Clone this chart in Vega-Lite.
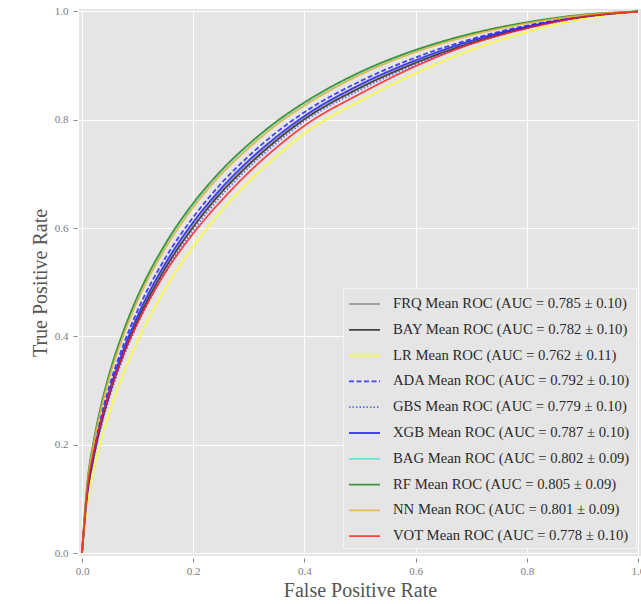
{
  "$schema": "https://vega.github.io/schema/vega-lite/v6.json",
  "autosize": {"type": "none"},
  "padding": {"left": 79, "top": 9, "right": 0, "bottom": 48},
  "width": 562,
  "height": 547,
  "background": "white",
  "config": {
    "view": {"fill": "#E5E5E5", "stroke": null},
    "axis": {
      "domain": false,
      "grid": true,
      "gridColor": "white",
      "gridWidth": 1.1,
      "tickColor": "#888888",
      "tickSize": 4,
      "tickWidth": 1,
      "offset": 2,
      "labelFont": "Liberation Serif",
      "labelFontSize": 11,
      "labelColor": "#7a7a7a",
      "titleFont": "Liberation Serif",
      "titleFontSize": 20,
      "titleFontWeight": "normal",
      "titleColor": "#555555"
    },
    "legend": {
      "labelFont": "Liberation Serif",
      "labelFontSize": 14.7,
      "labelColor": "#2a2a2a",
      "labelLimit": 400
    }
  },
  "datasets": {
    "labels": [
      {"m": "FRQ", "label": "FRQ Mean ROC (AUC = 0.785 ± 0.10)"},
      {"m": "BAY", "label": "BAY Mean ROC (AUC = 0.782 ± 0.10)"},
      {"m": "LR", "label": "LR Mean ROC (AUC = 0.762 ± 0.11)"},
      {"m": "ADA", "label": "ADA Mean ROC (AUC = 0.792 ± 0.10)"},
      {"m": "GBS", "label": "GBS Mean ROC (AUC = 0.779 ± 0.10)"},
      {"m": "XGB", "label": "XGB Mean ROC (AUC = 0.787 ± 0.10)"},
      {"m": "BAG", "label": "BAG Mean ROC (AUC = 0.802 ± 0.09)"},
      {"m": "RF", "label": "RF Mean ROC (AUC = 0.805 ± 0.09)"},
      {"m": "NN", "label": "NN Mean ROC (AUC = 0.801 ± 0.09)"},
      {"m": "VOT", "label": "VOT Mean ROC (AUC = 0.778 ± 0.10)"}
    ],
    "roc": [
      {"m": "FRQ", "x": 0, "y": 0}, {"m": "FRQ", "x": 0.01, "y": 0.115}, {"m": "FRQ", "x": 0.02, "y": 0.176}, {"m": "FRQ", "x": 0.03, "y": 0.224}, {"m": "FRQ", "x": 0.05, "y": 0.299}, {"m": "FRQ", "x": 0.075, "y": 0.374}, {"m": "FRQ", "x": 0.1, "y": 0.435}, {"m": "FRQ", "x": 0.15, "y": 0.532}, {"m": "FRQ", "x": 0.2, "y": 0.608}, {"m": "FRQ", "x": 0.25, "y": 0.67}, {"m": "FRQ", "x": 0.3, "y": 0.722}, {"m": "FRQ", "x": 0.35, "y": 0.766}, {"m": "FRQ", "x": 0.4, "y": 0.805}, {"m": "FRQ", "x": 0.5, "y": 0.863}, {"m": "FRQ", "x": 0.6, "y": 0.908}, {"m": "FRQ", "x": 0.7, "y": 0.945}, {"m": "FRQ", "x": 0.8, "y": 0.971}, {"m": "FRQ", "x": 0.9, "y": 0.99}, {"m": "FRQ", "x": 1, "y": 1},
      {"m": "BAY", "x": 0, "y": 0}, {"m": "BAY", "x": 0.01, "y": 0.112}, {"m": "BAY", "x": 0.02, "y": 0.172}, {"m": "BAY", "x": 0.03, "y": 0.219}, {"m": "BAY", "x": 0.05, "y": 0.294}, {"m": "BAY", "x": 0.075, "y": 0.368}, {"m": "BAY", "x": 0.1, "y": 0.429}, {"m": "BAY", "x": 0.15, "y": 0.526}, {"m": "BAY", "x": 0.2, "y": 0.602}, {"m": "BAY", "x": 0.25, "y": 0.665}, {"m": "BAY", "x": 0.3, "y": 0.717}, {"m": "BAY", "x": 0.35, "y": 0.762}, {"m": "BAY", "x": 0.4, "y": 0.801}, {"m": "BAY", "x": 0.5, "y": 0.859}, {"m": "BAY", "x": 0.6, "y": 0.905}, {"m": "BAY", "x": 0.7, "y": 0.942}, {"m": "BAY", "x": 0.8, "y": 0.97}, {"m": "BAY", "x": 0.9, "y": 0.99}, {"m": "BAY", "x": 1, "y": 1},
      {"m": "LR", "x": 0, "y": 0}, {"m": "LR", "x": 0.01, "y": 0.094}, {"m": "LR", "x": 0.02, "y": 0.148}, {"m": "LR", "x": 0.03, "y": 0.192}, {"m": "LR", "x": 0.05, "y": 0.262}, {"m": "LR", "x": 0.075, "y": 0.333}, {"m": "LR", "x": 0.1, "y": 0.392}, {"m": "LR", "x": 0.15, "y": 0.489}, {"m": "LR", "x": 0.2, "y": 0.566}, {"m": "LR", "x": 0.25, "y": 0.631}, {"m": "LR", "x": 0.3, "y": 0.686}, {"m": "LR", "x": 0.35, "y": 0.733}, {"m": "LR", "x": 0.4, "y": 0.775}, {"m": "LR", "x": 0.5, "y": 0.835}, {"m": "LR", "x": 0.6, "y": 0.886}, {"m": "LR", "x": 0.7, "y": 0.929}, {"m": "LR", "x": 0.8, "y": 0.962}, {"m": "LR", "x": 0.9, "y": 0.986}, {"m": "LR", "x": 1, "y": 1},
      {"m": "ADA", "x": 0, "y": 0}, {"m": "ADA", "x": 0.01, "y": 0.121}, {"m": "ADA", "x": 0.02, "y": 0.184}, {"m": "ADA", "x": 0.03, "y": 0.234}, {"m": "ADA", "x": 0.05, "y": 0.311}, {"m": "ADA", "x": 0.075, "y": 0.386}, {"m": "ADA", "x": 0.1, "y": 0.448}, {"m": "ADA", "x": 0.15, "y": 0.545}, {"m": "ADA", "x": 0.2, "y": 0.62}, {"m": "ADA", "x": 0.25, "y": 0.682}, {"m": "ADA", "x": 0.3, "y": 0.733}, {"m": "ADA", "x": 0.35, "y": 0.777}, {"m": "ADA", "x": 0.4, "y": 0.814}, {"m": "ADA", "x": 0.5, "y": 0.871}, {"m": "ADA", "x": 0.6, "y": 0.915}, {"m": "ADA", "x": 0.7, "y": 0.949}, {"m": "ADA", "x": 0.8, "y": 0.974}, {"m": "ADA", "x": 0.9, "y": 0.991}, {"m": "ADA", "x": 1, "y": 1},
      {"m": "GBS", "x": 0, "y": 0}, {"m": "GBS", "x": 0.01, "y": 0.109}, {"m": "GBS", "x": 0.02, "y": 0.168}, {"m": "GBS", "x": 0.03, "y": 0.215}, {"m": "GBS", "x": 0.05, "y": 0.289}, {"m": "GBS", "x": 0.075, "y": 0.363}, {"m": "GBS", "x": 0.1, "y": 0.423}, {"m": "GBS", "x": 0.15, "y": 0.52}, {"m": "GBS", "x": 0.2, "y": 0.596}, {"m": "GBS", "x": 0.25, "y": 0.659}, {"m": "GBS", "x": 0.3, "y": 0.712}, {"m": "GBS", "x": 0.35, "y": 0.757}, {"m": "GBS", "x": 0.4, "y": 0.797}, {"m": "GBS", "x": 0.5, "y": 0.855}, {"m": "GBS", "x": 0.6, "y": 0.902}, {"m": "GBS", "x": 0.7, "y": 0.94}, {"m": "GBS", "x": 0.8, "y": 0.969}, {"m": "GBS", "x": 0.9, "y": 0.989}, {"m": "GBS", "x": 1, "y": 1},
      {"m": "XGB", "x": 0, "y": 0}, {"m": "XGB", "x": 0.01, "y": 0.116}, {"m": "XGB", "x": 0.02, "y": 0.178}, {"m": "XGB", "x": 0.03, "y": 0.226}, {"m": "XGB", "x": 0.05, "y": 0.302}, {"m": "XGB", "x": 0.075, "y": 0.377}, {"m": "XGB", "x": 0.1, "y": 0.438}, {"m": "XGB", "x": 0.15, "y": 0.535}, {"m": "XGB", "x": 0.2, "y": 0.611}, {"m": "XGB", "x": 0.25, "y": 0.673}, {"m": "XGB", "x": 0.3, "y": 0.725}, {"m": "XGB", "x": 0.35, "y": 0.769}, {"m": "XGB", "x": 0.4, "y": 0.807}, {"m": "XGB", "x": 0.5, "y": 0.865}, {"m": "XGB", "x": 0.6, "y": 0.91}, {"m": "XGB", "x": 0.7, "y": 0.946}, {"m": "XGB", "x": 0.8, "y": 0.972}, {"m": "XGB", "x": 0.9, "y": 0.99}, {"m": "XGB", "x": 1, "y": 1},
      {"m": "BAG", "x": 0, "y": 0}, {"m": "BAG", "x": 0.01, "y": 0.131}, {"m": "BAG", "x": 0.02, "y": 0.197}, {"m": "BAG", "x": 0.03, "y": 0.248}, {"m": "BAG", "x": 0.05, "y": 0.328}, {"m": "BAG", "x": 0.075, "y": 0.405}, {"m": "BAG", "x": 0.1, "y": 0.467}, {"m": "BAG", "x": 0.15, "y": 0.564}, {"m": "BAG", "x": 0.2, "y": 0.64}, {"m": "BAG", "x": 0.25, "y": 0.7}, {"m": "BAG", "x": 0.3, "y": 0.749}, {"m": "BAG", "x": 0.35, "y": 0.792}, {"m": "BAG", "x": 0.4, "y": 0.827}, {"m": "BAG", "x": 0.5, "y": 0.884}, {"m": "BAG", "x": 0.6, "y": 0.926}, {"m": "BAG", "x": 0.7, "y": 0.957}, {"m": "BAG", "x": 0.8, "y": 0.979}, {"m": "BAG", "x": 0.9, "y": 0.993}, {"m": "BAG", "x": 1, "y": 1},
      {"m": "RF", "x": 0, "y": 0}, {"m": "RF", "x": 0.01, "y": 0.134}, {"m": "RF", "x": 0.02, "y": 0.201}, {"m": "RF", "x": 0.03, "y": 0.253}, {"m": "RF", "x": 0.05, "y": 0.334}, {"m": "RF", "x": 0.075, "y": 0.411}, {"m": "RF", "x": 0.1, "y": 0.474}, {"m": "RF", "x": 0.15, "y": 0.571}, {"m": "RF", "x": 0.2, "y": 0.646}, {"m": "RF", "x": 0.25, "y": 0.706}, {"m": "RF", "x": 0.3, "y": 0.755}, {"m": "RF", "x": 0.35, "y": 0.797}, {"m": "RF", "x": 0.4, "y": 0.832}, {"m": "RF", "x": 0.5, "y": 0.888}, {"m": "RF", "x": 0.6, "y": 0.929}, {"m": "RF", "x": 0.7, "y": 0.959}, {"m": "RF", "x": 0.8, "y": 0.98}, {"m": "RF", "x": 0.9, "y": 0.994}, {"m": "RF", "x": 1, "y": 1},
      {"m": "NN", "x": 0, "y": 0}, {"m": "NN", "x": 0.01, "y": 0.13}, {"m": "NN", "x": 0.02, "y": 0.196}, {"m": "NN", "x": 0.03, "y": 0.247}, {"m": "NN", "x": 0.05, "y": 0.327}, {"m": "NN", "x": 0.075, "y": 0.403}, {"m": "NN", "x": 0.1, "y": 0.466}, {"m": "NN", "x": 0.15, "y": 0.563}, {"m": "NN", "x": 0.2, "y": 0.638}, {"m": "NN", "x": 0.25, "y": 0.699}, {"m": "NN", "x": 0.3, "y": 0.748}, {"m": "NN", "x": 0.35, "y": 0.791}, {"m": "NN", "x": 0.4, "y": 0.826}, {"m": "NN", "x": 0.5, "y": 0.883}, {"m": "NN", "x": 0.6, "y": 0.925}, {"m": "NN", "x": 0.7, "y": 0.956}, {"m": "NN", "x": 0.8, "y": 0.978}, {"m": "NN", "x": 0.9, "y": 0.993}, {"m": "NN", "x": 1, "y": 1},
      {"m": "VOT", "x": 0, "y": 0}, {"m": "VOT", "x": 0.01, "y": 0.12}, {"m": "VOT", "x": 0.02, "y": 0.18}, {"m": "VOT", "x": 0.03, "y": 0.226}, {"m": "VOT", "x": 0.05, "y": 0.298}, {"m": "VOT", "x": 0.075, "y": 0.368}, {"m": "VOT", "x": 0.1, "y": 0.425}, {"m": "VOT", "x": 0.15, "y": 0.518}, {"m": "VOT", "x": 0.2, "y": 0.59}, {"m": "VOT", "x": 0.25, "y": 0.65}, {"m": "VOT", "x": 0.3, "y": 0.703}, {"m": "VOT", "x": 0.35, "y": 0.749}, {"m": "VOT", "x": 0.4, "y": 0.789}, {"m": "VOT", "x": 0.5, "y": 0.848}, {"m": "VOT", "x": 0.6, "y": 0.899}, {"m": "VOT", "x": 0.7, "y": 0.94}, {"m": "VOT", "x": 0.8, "y": 0.969}, {"m": "VOT", "x": 0.9, "y": 0.99}, {"m": "VOT", "x": 1, "y": 1}
    ]
  },
  "data": {"name": "roc"},
  "transform": [
    {"lookup": "m", "from": {"data": {"name": "labels"}, "key": "m", "fields": ["label"]}}
  ],
  "mark": {"type": "line", "interpolate": "monotone", "strokeWidth": 1.8, "opacity": 0.8},
  "encoding": {
    "x": {
      "field": "x", "type": "quantitative",
      "scale": {"domain": [-0.0054, 1.0054], "nice": false, "zero": false},
      "axis": {"values": [0, 0.2, 0.4, 0.6, 0.8, 1.0], "format": ".1f", "title": "False Positive Rate", "labelPadding": 3, "titlePadding": 4}
    },
    "y": {
      "field": "y", "type": "quantitative",
      "scale": {"domain": [-0.0055, 1.0046], "nice": false, "zero": false},
      "axis": {"values": [0, 0.2, 0.4, 0.6, 0.8, 1.0], "format": ".1f", "title": "True Positive Rate", "labelPadding": 5, "titlePadding": 4}
    },
    "color": {
      "field": "label", "type": "nominal",
      "scale": {
        "domain": ["FRQ Mean ROC (AUC = 0.785 ± 0.10)", "BAY Mean ROC (AUC = 0.782 ± 0.10)", "LR Mean ROC (AUC = 0.762 ± 0.11)", "ADA Mean ROC (AUC = 0.792 ± 0.10)", "GBS Mean ROC (AUC = 0.779 ± 0.10)", "XGB Mean ROC (AUC = 0.787 ± 0.10)", "BAG Mean ROC (AUC = 0.802 ± 0.09)", "RF Mean ROC (AUC = 0.805 ± 0.09)", "NN Mean ROC (AUC = 0.801 ± 0.09)", "VOT Mean ROC (AUC = 0.778 ± 0.10)"],
        "range": ["#909090", "#1a1a1a", "#ffff20", "#1a1aff", "#4848ff", "#1a1aff", "#50e0d0", "#128012", "#f5b035", "#ff1a1a"]
      },
      "legend": {
        "title": null, "orient": "none", "legendX": 264, "legendY": 279,
        "padding": 5, "fillColor": "#E5E5E5", "strokeColor": "#F4F4F4",
        "symbolType": "M-1,0L2.1,0", "symbolSize": 400, "symbolStrokeWidth": 1.8, "symbolOpacity": 0.8,
        "labelOffset": 23, "rowPadding": 7.8
      }
    },
    "strokeDash": {
      "field": "label", "type": "nominal",
      "scale": {
        "domain": ["FRQ Mean ROC (AUC = 0.785 ± 0.10)", "BAY Mean ROC (AUC = 0.782 ± 0.10)", "LR Mean ROC (AUC = 0.762 ± 0.11)", "ADA Mean ROC (AUC = 0.792 ± 0.10)", "GBS Mean ROC (AUC = 0.779 ± 0.10)", "XGB Mean ROC (AUC = 0.787 ± 0.10)", "BAG Mean ROC (AUC = 0.802 ± 0.09)", "RF Mean ROC (AUC = 0.805 ± 0.09)", "NN Mean ROC (AUC = 0.801 ± 0.09)", "VOT Mean ROC (AUC = 0.778 ± 0.10)"],
        "range": [[1, 0], [1, 0], [1, 0], [5, 2.5], [1.5, 2], [1, 0], [1, 0], [1, 0], [1, 0], [1, 0]]
      },
      "legend": {
        "title": null, "orient": "none", "legendX": 264, "legendY": 279,
        "padding": 5, "fillColor": "#E5E5E5", "strokeColor": "#F4F4F4",
        "symbolType": "M-1,0L2.1,0", "symbolSize": 400, "symbolStrokeWidth": 1.8, "symbolOpacity": 0.8,
        "labelOffset": 23, "rowPadding": 7.8
      }
    }
  }
}
